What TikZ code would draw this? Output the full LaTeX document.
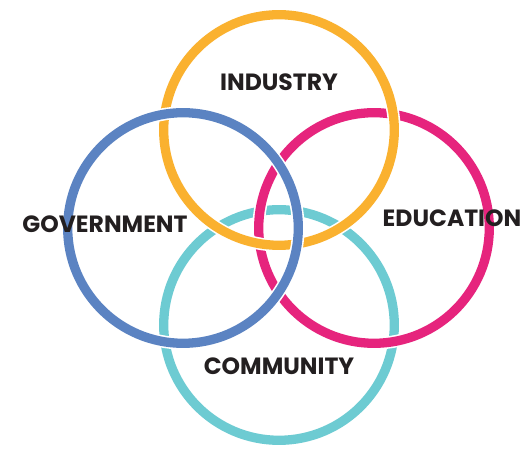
\documentclass[tikz,border=0pt]{standalone}
\usepackage{fontspec}
\setmainfont{Poppins}
\usepackage{xcolor}
\usepackage{tikz}
\usetikzlibrary{shapes}

\definecolor{ringorange}{HTML}{FAB12F}
\definecolor{ringblue}{HTML}{5B83C2}
\definecolor{ringpink}{HTML}{E6247D}
\definecolor{ringteal}{HTML}{6DCBD2}
\definecolor{labelink}{HTML}{231F20}

\begin{document}
\begin{tikzpicture}
[
    x = 1pt, y = 1pt,
    ring/.style = {circle, inner sep = 0pt, minimum size = 230.6pt, draw = white, line width = 1.6pt, double distance = 9.3pt},
    sector/.style = {text = labelink, font = \bfseries\fontsize{23.5}{23.5}\selectfont, inner sep = 0pt}
]
\useasboundingbox (0,0) rectangle (527,449);

\node [ring, double = ringteal]   (community)  at (279,124) {};
\node [ring, double = ringpink]   (education)  at (374,221) {};
\node [ring, double = ringorange] (industry)   at (279,319) {};
\node [ring, double = ringblue]   (government) at (183,221) {};

\node [sector] (industrylabel)   at (279,367) {INDUSTRY};
\node [sector] (governmentlabel) at (105,225) {GOVERNMENT};
\node [sector] (educationlabel)  at (452,231) {EDUCATION};
\node [sector] (communitylabel)  at (279,83)  {COMMUNITY};

\end{tikzpicture}
\end{document}
